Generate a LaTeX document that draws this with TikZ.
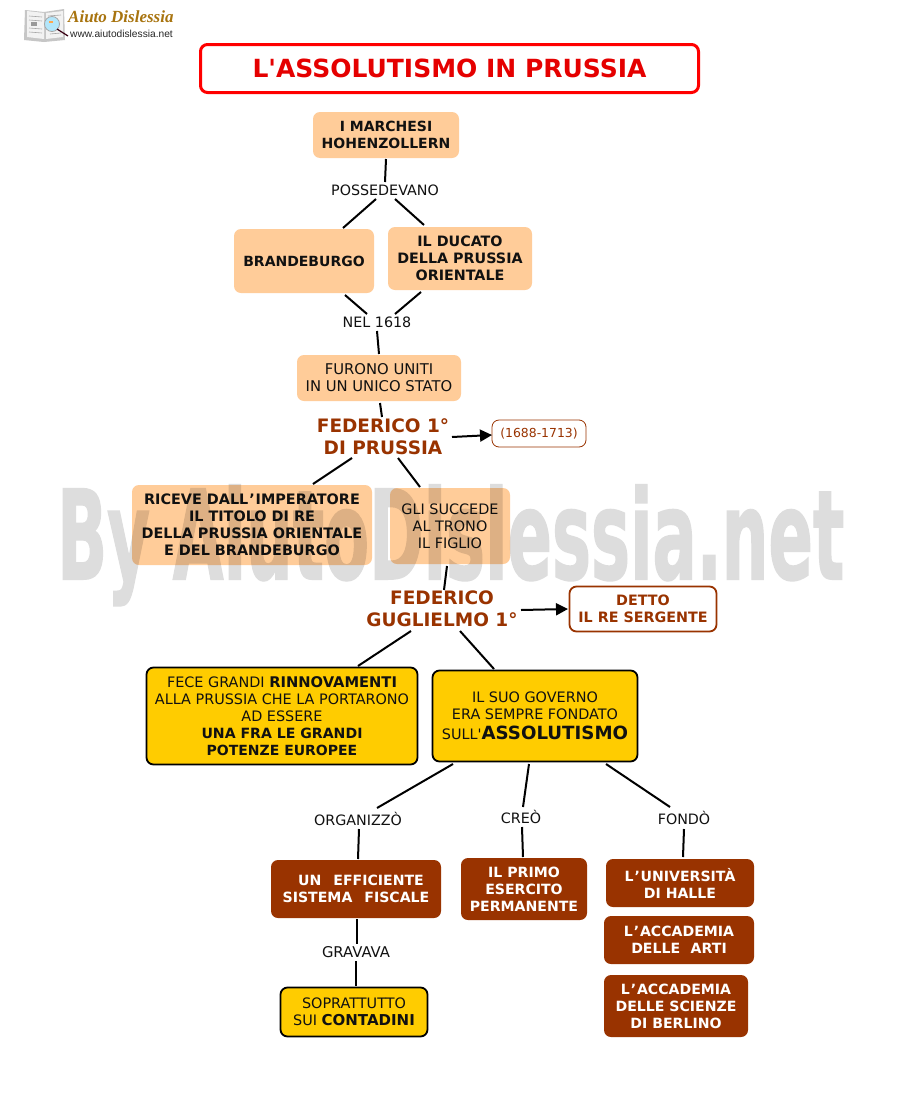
\documentclass[tikz,border=0pt]{standalone}
\usepackage{fontspec}
\setmainfont{DejaVu Sans}
\newfontfamily\logofont{Liberation Serif}
\newfontfamily\urlfont{Liberation Sans}
\newfontfamily\markfont[BoldFeatures={FakeBold=1.6}]{DejaVu Sans}
\usetikzlibrary{arrows.meta}
\definecolor{peach}{HTML}{FFCC99}
\definecolor{rust}{HTML}{993300}
\definecolor{amber}{HTML}{FFCC00}
\definecolor{inkblack}{HTML}{111111}
\definecolor{logogold}{HTML}{A8740F}
\definecolor{markgray}{HTML}{DDDDDD}
\newcommand{\fs}[1]{\fontsize{#1}{17}\selectfont}
\newcommand{\bb}[2][14.7]{{\fs{#1}\bfseries #2}}
\newcommand{\apo}{\kern1pt’\kern.8pt}
\newcommand{\sq}{\textquotesingle}
\tikzset{
  x=1pt,y=-1pt,
  basebox/.style={inner sep=0pt,align=center,rounded corners=7pt,font=\fs{14.4},text=inkblack},
  peachbox/.style={basebox,fill=peach},
  rustbox/.style={basebox,fill=rust,text=white,font=\fs{14.1}\bfseries},
  amberbox/.style={basebox,fill=amber,draw=black,line width=1.8pt},
  outlinebox/.style={basebox,fill=white,draw=rust,text=rust},
  plainlabel/.style={inner sep=0pt,align=center,font=\fs{14.3},text=inkblack},
  rusthead/.style={inner sep=0pt,align=center,text=rust,font=\fontsize{18.5}{22}\selectfont\bfseries},
  linkline/.style={draw=black,line width=2pt},
  linkarrow/.style={linkline,-{Triangle[length=12pt,width=12pt]}},
}
% \cn[style]{a}{dx,dy}{b}{dx,dy}: connector between named nodes, offsets from their centres
\newcommand{\cn}[5][linkline]{\draw[#1] ([shift={(#3)}]#2.center) -- ([shift={(#5)}]#4.center);}
\begin{document}
\begin{tikzpicture}
\useasboundingbox (0,0) rectangle (900,1100);
\fill[white] (0,0) rectangle (900,1100);

% logo
\begin{scope}
  \fill[gray!45] (25,10) -- (44,12) -- (64,9) -- (65,40) -- (44,42) -- (24,40) -- cycle;
  \fill[white!90!gray] (27,11) -- (44,13) -- (44,39) -- (27,37) -- cycle;
  \fill[white!90!gray] (46,13) -- (63,11) -- (63,37) -- (46,39) -- cycle;
  \draw[gray!70,line width=.6pt] (29,16) -- (42,17) (29,20) -- (42,21) (29,28) -- (42,29) (29,32) -- (42,33) (48,16) -- (61,15) (50,34) -- (61,33);
  \fill[gray!80] (31,22) rectangle (37,26);
  \fill[cyan!30,draw=gray!70,line width=.8pt] (52,24) circle (7.5);
  \fill[orange!70] (49,21) rectangle (53,23);
  \draw[black!70!purple,line width=1.2pt] (57,29) -- (68,36);
\end{scope}
\node[inner sep=0pt,anchor=base west,text=logogold,font=\fontsize{17}{18}\selectfont\logofont\bfseries\itshape] (logotitle) at (68,23) {Aiuto Dislessia};
\node[inner sep=0pt,anchor=base west,text=black!85,font=\fontsize{10.2}{11}\selectfont\urlfont] (logourl) at (70,37) {www.aiutodislessia.net};

% title
\node[basebox,fill=white,draw=red,line width=3pt,text=red!90!black,minimum width=498pt,minimum height=48pt,font=\fontsize{25}{28}\selectfont\bfseries] (title) at (449.5,68.5) {L\sq ASSOLUTISMO IN PRUSSIA};

% upper nodes
\node[peachbox,minimum width=146pt,minimum height=46pt,font=\fs{14}\bfseries] (mar) at (386,135) {I MARCHESI\\HOHENZOLLERN};
\node[plainlabel] (pos) at (385,190) {POSSEDEVANO};
\node[peachbox,minimum width=140pt,minimum height=64pt,font=\fs{14}\bfseries] (bra) at (304,261) {BRANDEBURGO};
\node[peachbox,minimum width=144pt,minimum height=63pt,font=\fs{14.3}\bfseries] (duc) at (460,258.5) {IL DUCATO\\DELLA PRUSSIA\\ORIENTALE};
\node[plainlabel] (nel) at (377,322) {NEL 1618};
\node[peachbox,minimum width=164pt,minimum height=46pt,font=\fs{14.8}] (fur) at (379,378) {FURONO UNITI\\IN UN UNICO STATO};
\node[rusthead] (fone) at (383,437) {FEDERICO 1°\\DI PRUSSIA};
\node[outlinebox,line width=.8pt,minimum width=94pt,minimum height=27pt,font=\fontsize{12.4}{14}\selectfont] (anni) at (539,433.5) {(1688-1713)};
\node[peachbox,minimum width=240pt,minimum height=80pt,font=\fs{14.4}\bfseries] (ric) at (252,525) {RICEVE DALL\apo IMPERATORE\\IL TITOLO DI RE\\DELLA PRUSSIA ORIENTALE\\E DEL BRANDEBURGO};
\node[peachbox,minimum width=120pt,minimum height=76pt] (gli) at (450,526) {GLI SUCCEDE\\AL TRONO\\IL FIGLIO};
\node[rusthead] (fgu) at (442,609) {FEDERICO\\GUGLIELMO 1°};
\node[outlinebox,line width=1.8pt,minimum width=147pt,minimum height=45pt,font=\fs{14.3}\bfseries] (det) at (643,609) {DETTO\\IL RE SERGENTE};

% amber nodes
\node[amberbox,minimum width=271pt,minimum height=97pt] (fec) at (282,716) {FECE GRANDI \bb{RINNOVAMENTI}\\ALLA PRUSSIA CHE LA PORTARONO\\AD ESSERE\\\bb[14.1]{UNA FRA LE GRANDI}\\\bb[14]{POTENZE EUROPEE}};
\node[amberbox,minimum width=205pt,minimum height=91pt] (suo) at (535,716) {IL SUO GOVERNO\\ERA SEMPRE FONDATO\\[3pt]SULL\sq{\fontsize{18.2}{17}\selectfont\bfseries ASSOLUTISMO}};

% lower labels
\node[plainlabel] (org) at (358,819) {ORGANIZZÒ};
\node[plainlabel] (cre) at (521,817) {CREÒ};
\node[plainlabel] (fon) at (684,818) {FONDÒ};
\node[plainlabel,font=\fs{14.8}] (gra) at (356,952) {GRAVAVA};

% rust nodes
\node[rustbox,minimum width=170pt,minimum height=58pt] (sis) at (356,889) {\hspace*{10pt}UN\hspace{.5em} EFFICIENTE\\SISTEMA\hspace{.5em} FISCALE};
\node[rustbox,minimum width=126pt,minimum height=62pt] (pri) at (524,889) {IL PRIMO\\ESERCITO\\PERMANENTE};
\node[rustbox,minimum width=148pt,minimum height=48pt] (uni) at (680,883) {L\apo UNIVERSITÀ\\DI HALLE};
\node[rustbox,minimum width=150pt,minimum height=48pt] (art) at (679,940) {L\apo ACCADEMIA\\DELLE\hspace{.4em} ARTI};
\node[rustbox,minimum width=144pt,minimum height=62pt] (sci) at (676,1006) {L\apo ACCADEMIA\\DELLE SCIENZE\\DI BERLINO};
\node[amberbox,minimum width=147pt,minimum height=49pt] (sop) at (354,1012) {SOPRATTUTTO\\SUI \bb[15]{CONTADINI}};

% connectors
\cn{mar}{0,24}{pos}{0,-8}
\cn{pos}{-9,9}{bra}{39,-33}
\cn{pos}{10,9}{duc}{-36,-33.5}
\cn{bra}{41,34}{nel}{-10,-8}
\cn{duc}{-39,33.5}{nel}{18,-8}
\cn{nel}{0,9}{fur}{0,-24}
\cn{fur}{1,25}{fone}{-1,-20}
\cn[linkarrow]{fone}{69,0}{anni}{-47,1.5}
\cn{fone}{-31,21}{ric}{61,-41}
\cn{fone}{15,21}{gli}{-30,-39}
\cn{gli}{-3,40}{fgu}{2,-19}
\cn[linkarrow]{fgu}{79,1}{det}{-75,0}
\cn{fgu}{-31,22}{fec}{76,-50}
\cn{fgu}{18,22}{suo}{-41,-47}
\cn{suo}{-82,48}{org}{19,-11}
\cn{suo}{-6,48}{cre}{2,-10}
\cn{suo}{71,48}{fon}{-14,-11}
\cn{org}{1,10}{sis}{2,-30}
\cn{cre}{1,10}{pri}{-1,-32}
\cn{fon}{0,11}{uni}{3,-26}
\cn{sis}{1,30}{gra}{1,-8}
\cn{gra}{0,9}{sop}{2,-26}

% watermark
\begin{scope}[blend mode=multiply,transparency group]
\node[anchor=base west,inner sep=0pt,text=markgray] (mark) at (57,579) {\resizebox{787pt}{94pt}{\markfont\bfseries By AiutoDislessia.net}};
\end{scope}
\end{tikzpicture}
\end{document}
